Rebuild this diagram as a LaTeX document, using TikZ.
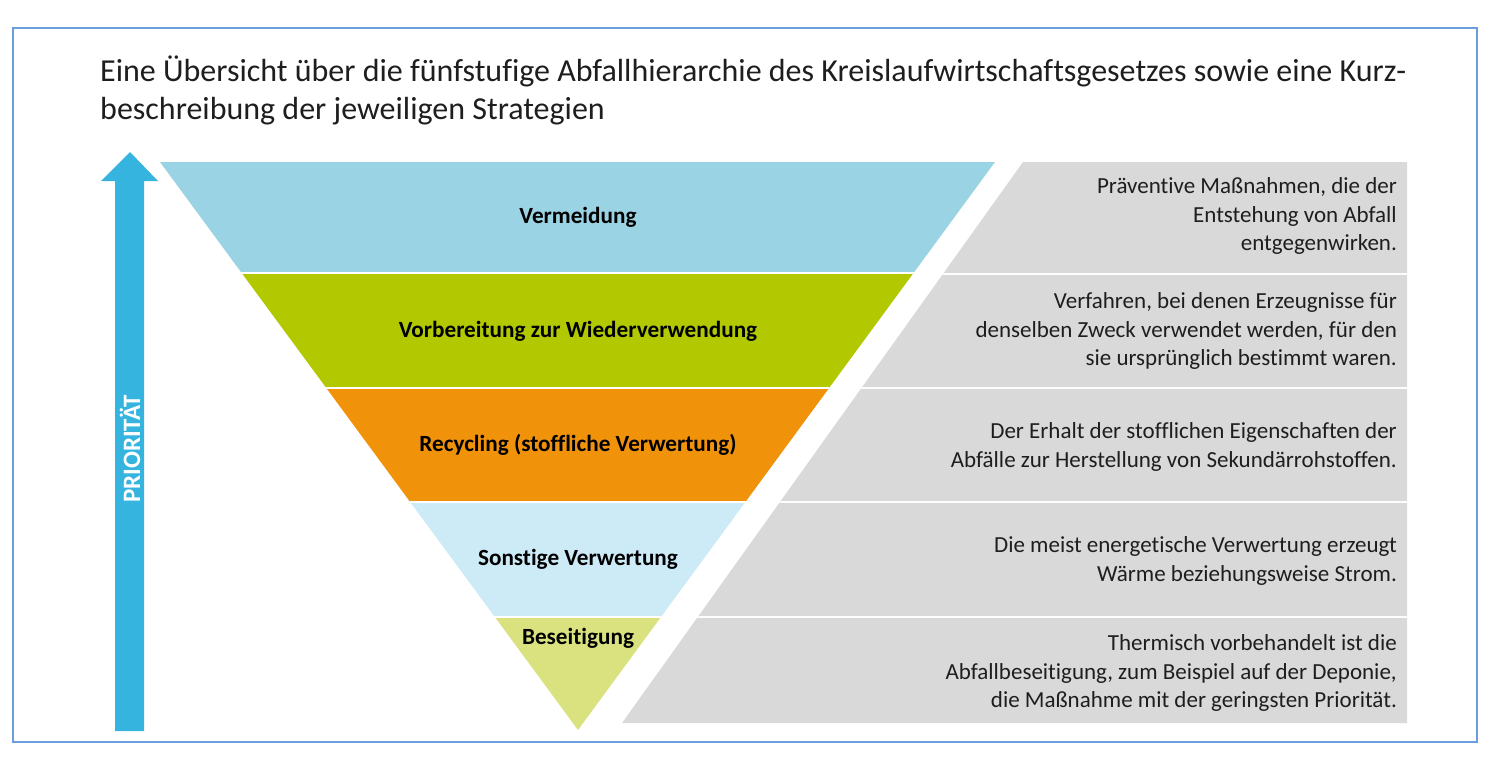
\documentclass[tikz,border=0pt]{standalone}
\usepackage{fontspec}
\setmainfont{Carlito}[Ligatures=NoCommon]
\definecolor{framec}{HTML}{6A9FDB}
\definecolor{cA}{HTML}{9AD3E3}
\definecolor{cB}{HTML}{B2C800}
\definecolor{cC}{HTML}{F0920A}
\definecolor{cD}{HTML}{CDEBF7}
\definecolor{cE}{HTML}{DAE27F}
\definecolor{grayc}{HTML}{D9D9D9}
\definecolor{arrowc}{HTML}{35B4E0}
\definecolor{txtc}{HTML}{1E1E1E}
\begin{document}
\begin{tikzpicture}[x=1pt,y=-1pt,
  titletext/.style={anchor=base west, inner sep=0, font=\fontsize{32}{38}\selectfont, text=txtc},
  levellabel/.style={inner sep=0, font=\fontsize{23.2}{26}\selectfont\bfseries, text=black},
  desctext/.style={anchor=east, inner sep=0, align=right, font=\fontsize{23}{28.5}\selectfont, text=txtc}]
\fill[white] (0,0) rectangle (1500,761);
\useasboundingbox (0,0) rectangle (1500,761);
\draw[framec, line width=1.5] (13,28) rectangle (1477,742);
% title
\node[titletext] (t1) at (100,81) {Eine Übersicht über die fünfstufige Abfallhierarchie des Kreislaufwirtschaftsgesetzes sowie eine Kurz-};
\node[titletext] (t2) at (100,119) {beschreibung der jeweiligen Strategien};
% arrow
\fill[arrowc] (115,731) -- (115,181) -- (101,181) -- (130,152) -- (158,181) -- (144,181) -- (144,731) -- cycle;
\node[rotate=90, inner sep=0, font=\fontsize{25}{28}\selectfont\bfseries, text=white] (prio) at (130,449) {PRIORITÄT};
% triangle
\coordinate (tl) at (160,162);
\coordinate (tr) at (995,162);
\coordinate (ap) at (578,730);
\begin{scope}
\clip (tl) -- (tr) -- (ap) -- cycle;
\fill[cA] (0,150) rectangle (1500,273);
\fill[cB] (0,273) rectangle (1500,388);
\fill[cC] (0,388) rectangle (1500,502);
\fill[cD] (0,502) rectangle (1500,617);
\fill[cE] (0,617) rectangle (1500,740);
\foreach \y in {273,388,502,617} \draw[white, line width=2.5] (0,\y) -- (1500,\y);
\end{scope}
% gray panel
\coordinate (gtl) at (1023,162);
\coordinate (gtr) at (1407,162);
\coordinate (gbr) at (1407,723);
\coordinate (gbl) at (622,723);
\begin{scope}
\clip (gtl) -- (gtr) -- (gbr) -- (gbl) -- cycle;
\fill[grayc] (0,150) rectangle (1500,740);
\foreach \y in {274,388,502,617} \draw[white!94!grayc, line width=2] (0,\y) -- (1500,\y);
\end{scope}
% level labels
\node[levellabel] (l1) at (578,217) {Vermeidung};
\node[levellabel] (l2) at (578,331) {Vorbereitung zur Wiederverwendung};
\node[levellabel] (l3) at (578,445) {Recycling (stoffliche Verwertung)};
\node[levellabel] (l4) at (578,559) {Sonstige Verwertung};
\node[levellabel] (l5) at (578,638) {Beseitigung};
% descriptions
\node[desctext] (d1) at (1397,216) {Präventive Maßnahmen, die der\\Entstehung von Abfall\\entgegenwirken.};
\node[desctext] (d2) at (1397,331) {Verfahren, bei denen Erzeugnisse für\\denselben Zweck verwendet werden, für den\\sie ursprünglich bestimmt waren.};
\node[desctext] (d3) at (1397,447) {Der Erhalt der stofflichen Eigenschaften der\\Abfälle zur Herstellung von Sekundärrohstoffen.};
\node[desctext] (d4) at (1397,561) {Die meist energetische Verwertung erzeugt\\Wärme beziehungsweise Strom.};
\node[desctext] (d5) at (1397,673) {Thermisch vorbehandelt ist die\\Abfallbeseitigung, zum Beispiel auf der Deponie,\\die Maßnahme mit der geringsten Priorität.};
\end{tikzpicture}
\end{document}
